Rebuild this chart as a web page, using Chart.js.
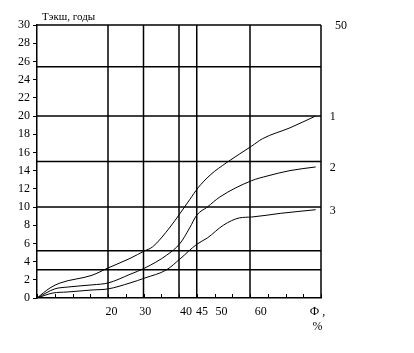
<!DOCTYPE html>
<html>
<head>
<meta charset="utf-8">
<script src="https://cdn.jsdelivr.net/npm/chart.js@4.4.0/dist/chart.umd.min.js"></script>
<style>
  html, body { margin: 0; padding: 0; background: #fff; }
</style>
</head>
<body>
<canvas id="chart" width="414" height="353"></canvas>
<script>
// x is the position along the axis in minor-tick steps (0..16)
var curve1X = [0, 0.73, 1.3, 3.1, 4, 5.24, 6.08, 6.5, 7.5, 8.06, 8.6, 9.07, 9.75, 10.7, 12.1, 12.7, 14.25, 15.7];
var curve1Y = [0, 1.1, 1.65, 2.5, 3.3, 4.35, 5.2, 5.6, 7.8, 9.3, 10.8, 12.1, 13.5, 14.9, 16.7, 17.5, 18.7, 20];
var curve2X = [0, 1.0, 1.7, 3.15, 4, 5.24, 6.08, 7.3, 8.06, 8.6, 9.0, 9.6, 10.3, 12.1, 12.96, 14.25, 15.7];
var curve2Y = [0, 1.0, 1.2, 1.45, 1.65, 2.6, 3.3, 4.7, 6.0, 7.7, 9.1, 10.0, 11.1, 12.9, 13.4, 14.0, 14.4];
var curve3X = [0, 0.9, 1.7, 3.1, 4, 5.24, 6.08, 7.3, 8.06, 9.0, 9.6, 10.5, 11.4, 12.1, 13.7, 15.7];
var curve3Y = [0, 0.55, 0.66, 0.88, 1.0, 1.65, 2.2, 3.1, 4.3, 5.9, 6.6, 8.0, 8.8, 8.9, 9.3, 9.7];
var curveNames = ['1', '2', '3'];

var xTickLabels = ['20', '30', '40', '45', '50', '60', ['\u0424 ,', '%']];
var xTickPos = [4.2, 6.1, 8.4, 9.3, 10.4, 12.6, 15.8];
var vLines = [4, 6, 8, 9, 12, 16];
var hLines = [30, 25.4, 20, 15, 10, 5.2, 3.1];
var yTitle = '\u0422\u044d\u043a\u0448, \u0433\u043e\u0434\u044b';
var cornerLabel = '50';

var font = 'Liberation Serif, Times New Roman, serif';

function toPoints(xs, ys){
  var pts = [];
  for (var i = 0; i < xs.length; i++) pts.push({x: xs[i], y: ys[i]});
  return pts;
}

var datasets = [];
vLines.forEach(function(v){
  datasets.push({data: [{x: v, y: 0}, {x: v, y: 30}], borderColor: '#000', borderWidth: 1.5, pointRadius: 0, showLine: true, clip: false});
});
hLines.forEach(function(v){
  datasets.push({data: [{x: 0, y: v}, {x: 16, y: v}], borderColor: '#000', borderWidth: 1.5, pointRadius: 0, showLine: true, clip: false});
});
var curves = [toPoints(curve1X, curve1Y), toPoints(curve2X, curve2Y), toPoints(curve3X, curve3Y)];
curves.forEach(function(c){
  datasets.push({data: c, borderColor: '#000', borderWidth: 1, pointRadius: 0, showLine: true,
    cubicInterpolationMode: 'monotone'});
});

var extras = {
  id: 'extras',
  afterDraw: function(chart){
    var ctx = chart.ctx, xs = chart.scales.x, ys = chart.scales.y, a = chart.chartArea;
    ctx.save();
    ctx.strokeStyle = '#000';
    ctx.lineWidth = 1;
    // small ticks inside the bottom axis
    for (var i = 0; i <= 16; i++){
      var px = Math.round(xs.getPixelForValue(i)) + 0.5;
      ctx.beginPath();
      ctx.moveTo(px, a.bottom);
      ctx.lineTo(px, a.bottom - 4);
      ctx.stroke();
    }
    ctx.fillStyle = '#000';
    ctx.font = '11px ' + font;
    ctx.textBaseline = 'middle';
    ctx.textAlign = 'left';
    ctx.fillText(yTitle, 42, 17);
    ctx.font = '12px ' + font;
    ctx.fillText(cornerLabel, xs.getPixelForValue(16) + 14, ys.getPixelForValue(30) + 1);
    curves.forEach(function(c, k){
      var last = c[c.length - 1];
      ctx.fillText(curveNames[k], xs.getPixelForValue(last.x) + 14, ys.getPixelForValue(last.y) + 1);
    });
    ctx.restore();
  }
};

new Chart(document.getElementById('chart'), {
  type: 'scatter',
  data: {datasets: datasets},
  options: {
    responsive: false,
    animation: false,
    layout: {padding: {left: 0, top: 25, right: 93, bottom: 0}},
    plugins: {legend: {display: false}, tooltip: {enabled: false}},
    scales: {
      x: {
        type: 'linear', min: 0, max: 16,
        afterBuildTicks: function(scale){
          scale.ticks = xTickPos.map(function(v){ return {value: v}; });
        },
        afterFit: function(scale){ scale.height = 55; },
        ticks: {
          autoSkip: false, maxRotation: 0, padding: 7, color: '#000',
          font: {family: font, size: 12},
          callback: function(value, index){ return xTickLabels[index]; }
        },
        grid: {drawOnChartArea: false, drawTicks: false},
        border: {color: '#000', width: 1.5}
      },
      y: {
        min: 0, max: 30,
        afterFit: function(scale){ scale.width = 37; },
        ticks: {stepSize: 2, padding: 3, color: '#000', font: {family: font, size: 12}},
        grid: {drawOnChartArea: false, tickLength: 4, color: '#000'},
        border: {color: '#000', width: 1.5}
      }
    }
  },
  plugins: [extras]
});
</script>
</body>
</html>
